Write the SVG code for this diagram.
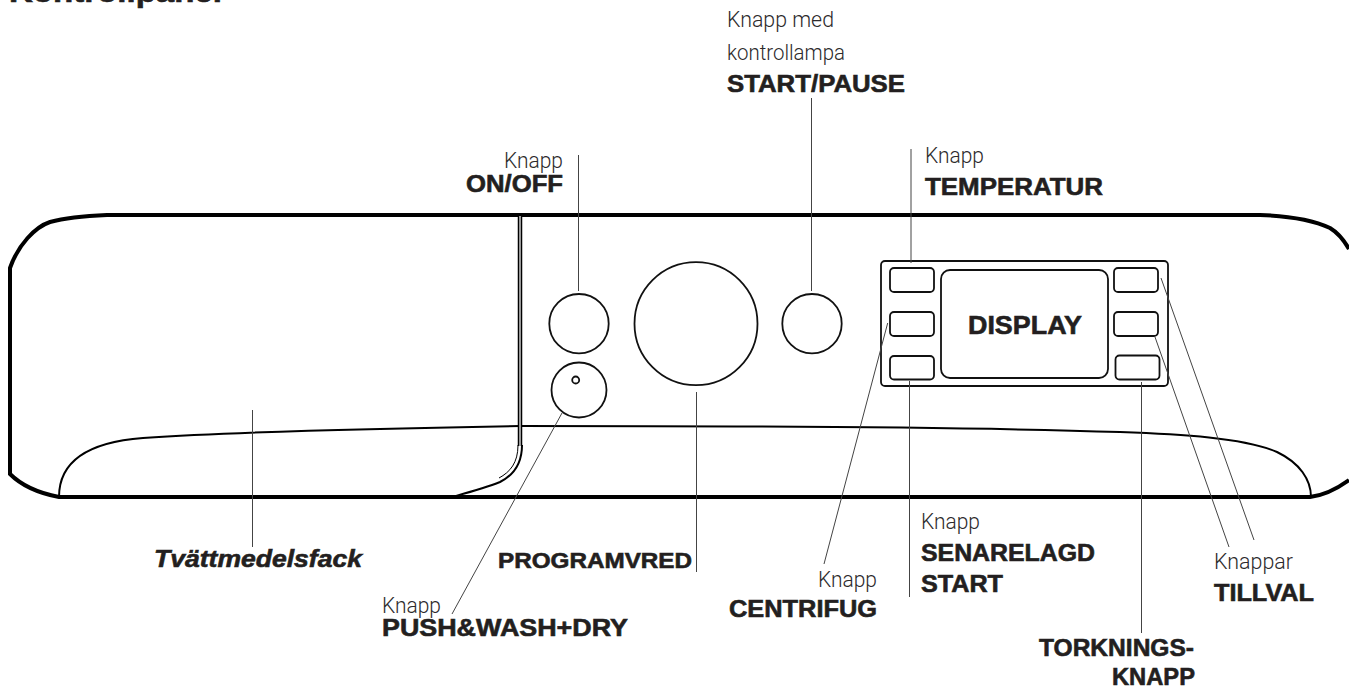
<svg xmlns="http://www.w3.org/2000/svg" width="1349" height="686" viewBox="0 0 1349 686">
<style>
.b{font-family:"Liberation Sans",Arial,sans-serif;font-weight:700;font-size:24px;fill:#231f20;stroke:#231f20;stroke-width:.6px}
.l{font-family:Roboto,"Liberation Sans",Arial,sans-serif;font-weight:300;font-size:21.500px;fill:#2c2a2b}
.o{fill:none;stroke:#000;stroke-width:4}
.p{fill:none;stroke:#000;stroke-width:2}
.s{fill:#fff;stroke:#111;stroke-width:1.8}
.c line{stroke:#444;stroke-width:1}
</style>
<rect width="1349" height="686" fill="#fff"/>
<text x="9" y="2" class="b" style="font-size:29px" textLength="213" lengthAdjust="spacingAndGlyphs">Kontrollpanel</text>
<g id="panel-body">
<path class="o" d="M1349 249C1345 242 1340 234 1330 228C1315 221 1290 216 1260 215H107C85 216 65 218 50 222C35 227 18 245 10 268V474C22 486 38 493 59 497H1310C1325 495 1338 488 1349 480"/>
<path class="p" d="M59 497C59 460 90 442 143 438C250 431 400 428 520 426C800 426 1000 428 1120 432C1180 434 1245 438 1277 452C1300 463 1311 480 1311 497"/>
</g>
<g id="detergent-drawer">
<path d="M520 215V446" fill="none" stroke="#000" stroke-width="4.500"/>
<path d="M520 216V446" fill="none" stroke="#999" stroke-width="2"/>
<path class="p" d="M522 445C522 466 512 476 500 482C485 488 470 492 452 497"/>
<path d="M518 445C518 463 510 472 499 478" fill="none" stroke="#000" stroke-width="1"/>
</g>
<g id="btn-onoff"><circle class="s" cx="579" cy="323.700" r="29.700"/></g>
<g id="btn-push"><circle class="s" cx="579" cy="390" r="27.500"/><circle class="s" cx="575.700" cy="380" r="3.500"/></g>
<g id="dial-program"><circle class="s" cx="696" cy="323.700" r="61.500"/></g>
<g id="btn-start"><circle class="s" cx="812" cy="323.700" r="29.700"/></g>
<g id="display-panel">
<rect class="s" x="881" y="261" width="287" height="125" rx="4"/>
<rect class="s" x="890" y="268" width="44" height="24" rx="4"/>
<rect class="s" x="890" y="312" width="44" height="24" rx="4"/>
<rect class="s" x="890" y="356" width="44" height="23.500" rx="4"/>
<rect class="s" x="1114" y="268" width="44" height="24" rx="4"/>
<rect class="s" x="1114" y="312" width="44" height="24" rx="4"/>
<rect class="s" x="1115.500" y="355.500" width="44" height="24" rx="4"/>
<rect class="s" x="941" y="270" width="167" height="108" rx="9"/>
<text x="968" y="334" class="b" style="font-size:26.500px" textLength="114" lengthAdjust="spacingAndGlyphs">DISPLAY</text>
</g>
<g id="connectors" class="c">
<line x1="811.500" y1="98" x2="811.500" y2="291"/>
<line x1="578.500" y1="155" x2="578.500" y2="291"/>
<line x1="911" y1="149" x2="911" y2="263"/>
<line x1="887.700" y1="323" x2="824" y2="564"/>
<line x1="909.500" y1="381" x2="909.500" y2="597"/>
<line x1="1141.500" y1="382" x2="1141.500" y2="633"/>
<line x1="1161" y1="278" x2="1254" y2="540"/>
<line x1="1155" y1="337" x2="1229" y2="547"/>
<line x1="696.500" y1="392" x2="696.500" y2="572"/>
<line x1="562" y1="413" x2="452" y2="614"/>
<line x1="252.500" y1="410" x2="252.500" y2="547"/>
</g>
<g id="labels">
<text x="727" y="27" class="l" textLength="107" lengthAdjust="spacingAndGlyphs">Knapp med</text>
<text x="727" y="60" class="l" textLength="118" lengthAdjust="spacingAndGlyphs">kontrollampa</text>
<text x="727" y="92" class="b" textLength="178" lengthAdjust="spacingAndGlyphs">START/PAUSE</text>
<text x="504" y="168" class="l" textLength="59" lengthAdjust="spacingAndGlyphs">Knapp</text>
<text x="466" y="192" class="b" textLength="97" lengthAdjust="spacingAndGlyphs">ON/OFF</text>
<text x="925" y="163" class="l" textLength="59" lengthAdjust="spacingAndGlyphs">Knapp</text>
<text x="925" y="195" class="b" textLength="178" lengthAdjust="spacingAndGlyphs">TEMPERATUR</text>
<text x="154" y="567" class="b" style="font-style:italic" textLength="208" lengthAdjust="spacingAndGlyphs">Tvättmedelsfack</text>
<text x="498" y="568" class="b" style="font-size:22.500px" textLength="194" lengthAdjust="spacingAndGlyphs">PROGRAMVRED</text>
<text x="382" y="613" class="l" textLength="59" lengthAdjust="spacingAndGlyphs">Knapp</text>
<text x="382" y="636" class="b" textLength="246" lengthAdjust="spacingAndGlyphs">PUSH&amp;WASH+DRY</text>
<text x="818" y="587" class="l" textLength="59" lengthAdjust="spacingAndGlyphs">Knapp</text>
<text x="729" y="617" class="b" textLength="148" lengthAdjust="spacingAndGlyphs">CENTRIFUG</text>
<text x="921" y="529" class="l" textLength="59" lengthAdjust="spacingAndGlyphs">Knapp</text>
<text x="921" y="561" class="b" textLength="174" lengthAdjust="spacingAndGlyphs">SENARELAGD</text>
<text x="921" y="592" class="b" textLength="82" lengthAdjust="spacingAndGlyphs">START</text>
<text x="1214" y="569" class="l" textLength="79" lengthAdjust="spacingAndGlyphs">Knappar</text>
<text x="1214" y="601" class="b" textLength="100" lengthAdjust="spacingAndGlyphs">TILLVAL</text>
<text x="1039" y="656" class="b" textLength="155" lengthAdjust="spacingAndGlyphs">TORKNINGS-</text>
<text x="1112" y="685" class="b" textLength="83" lengthAdjust="spacingAndGlyphs">KNAPP</text>
</g>
</svg>
